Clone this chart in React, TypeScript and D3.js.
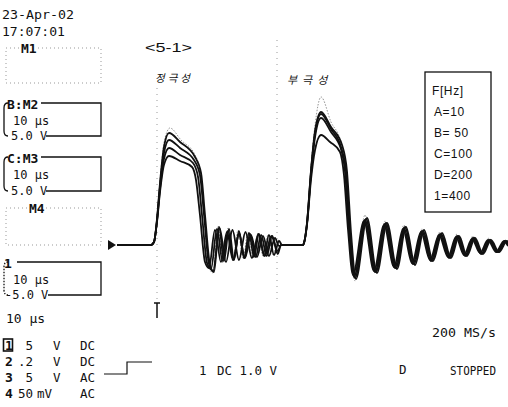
import React from "react";
import * as d3 from "d3";

// time in μs (trigger = 0), level in V
const traceA: [number, number][] = [
  [-3.33, 0], [-0.5, 0], [-0.25, 0.3], [0, 2.3], [0.25, 5.3], [0.58, 8.0], [1.0, 8.9], [1.92, 8.4], [2.92, 7.8], [3.25, 6.5], [3.58, 3.0], [4.0, -1.7], [4.33, -2.3],
  [4.83, 1.5], [5.33, -1.7], [5.83, 1.3], [6.33, -1.5], [6.83, 1.1], [7.33, -1.3], [7.83, 1.0], [8.33, -1.2], [8.83, 0.9], [9.33, -1.1], [9.83, 0.7], [10.17, -0.1], [10.42, 0],
  [12.17, 0],
  [12.25, 0.2], [12.5, 2.0], [12.83, 6.5], [13.17, 9.5], [13.67, 11.0], [14.42, 10.3], [15.25, 9.3], [15.58, 7.0], [15.92, 1.5], [16.33, -3.0],
  [17.25, 2.4], [18.08, -2.6], [18.92, 2.0], [19.75, -2.2], [20.5, 1.6], [21.25, -1.8], [22.0, 1.3], [22.75, -1.5], [23.5, 1.0], [24.25, -1.2], [24.92, 0.8], [25.58, -1.0], [26.25, 0.6], [26.92, -0.8], [27.58, 0.5], [28.25, -0.7], [28.92, 0.4], [29.25, -0.1],
];
const traceB: [number, number][] = [
  [-3.33, 0], [-0.5, 0], [-0.25, 0.3], [0, 2.4], [0.25, 5.6], [0.58, 8.6], [1.0, 9.7], [1.92, 9.0], [3.0, 8.2], [3.42, 6.8], [3.75, 3.0], [4.17, -1.8], [4.5, -2.4],
  [5.0, 1.6], [5.46, -1.6], [5.92, 1.4], [6.38, -1.5], [6.84, 1.2], [7.3, -1.3], [7.76, 1.1], [8.22, -1.2], [8.68, 1.0], [9.14, -1.1], [9.6, 0.9], [10.06, -0.9], [10.33, 0],
  [12.17, 0],
  [12.25, 0.2], [12.5, 2.1], [12.83, 7.0], [13.17, 10.8], [13.67, 12.7], [14.5, 11.3], [15.33, 9.6], [15.67, 7.3], [16.0, 1.5], [16.42, -3.2],
  [17.33, 2.5], [18.17, -2.7], [19.0, 2.1], [19.83, -2.3], [20.58, 1.7], [21.33, -1.9], [22.08, 1.4], [22.83, -1.6], [23.58, 1.1], [24.33, -1.3], [25.0, 0.9], [25.67, -1.1], [26.33, 0.7], [27.0, -0.9], [27.67, 0.5], [28.33, -0.7], [29.0, 0.4], [29.25, 0],
];
const traceC: [number, number][] = [
  [-3.33, 0], [-0.5, 0], [-0.25, 0.3], [0, 2.5], [0.25, 5.9], [0.58, 9.2], [1.0, 10.5], [1.92, 9.7], [3.08, 8.5], [3.58, 7.0], [3.92, 3.0], [4.33, -1.9], [4.67, -2.6],
  [5.21, 1.7], [5.75, -1.7], [6.29, 1.5], [6.83, -1.5], [7.37, 1.3], [7.91, -1.3], [8.45, 1.1], [8.99, -1.1], [9.53, 0.9], [10.07, -0.6], [10.33, 0],
  [12.17, 0],
  [12.25, 0.2], [12.5, 2.2], [12.83, 7.3], [13.17, 11.2], [13.67, 13.1], [14.5, 11.6], [15.33, 9.8], [15.75, 7.4], [16.08, 1.4], [16.5, -3.3],
  [17.42, 2.6], [18.25, -2.7], [19.08, 2.2], [19.92, -2.3], [20.67, 1.8], [21.42, -1.9], [22.17, 1.4], [22.92, -1.6], [23.67, 1.1], [24.42, -1.3], [25.08, 0.9], [25.75, -1.1], [26.42, 0.7], [27.08, -0.9], [27.75, 0.5], [28.42, -0.7], [29.08, 0.4], [29.25, 0.1],
];
const traceD: [number, number][] = [
  [-3.33, 0], [-0.5, 0], [-0.25, 0.3], [0, 2.6], [0.25, 6.2], [0.58, 9.8], [1.0, 11.2], [1.92, 10.3], [3.17, 8.8], [3.67, 7.2], [4.0, 3.0], [4.42, -2.0], [4.75, -2.7],
  [5.17, 1.8], [5.58, -1.6], [6.0, 1.6], [6.42, -1.5], [6.83, 1.4], [7.25, -1.3], [7.67, 1.2], [8.08, -1.2], [8.5, 1.1], [8.92, -1.1], [9.33, 1.0], [9.75, -1.0], [10.17, 0.4], [10.42, 0],
  [12.17, 0],
  [12.25, 0.2], [12.5, 2.2], [12.83, 7.4], [13.17, 11.4], [13.67, 13.3], [14.5, 11.8], [15.42, 10.0], [15.83, 7.4], [16.17, 1.2], [16.58, -3.4],
  [17.5, 2.7], [18.33, -2.8], [19.17, 2.2], [20.0, -2.4], [20.75, 1.8], [21.5, -2.0], [22.25, 1.5], [23.0, -1.6], [23.75, 1.2], [24.5, -1.3], [25.17, 0.9], [25.83, -1.1], [26.5, 0.7], [27.17, -0.9], [27.83, 0.5], [28.5, -0.7], [29.17, 0.4], [29.25, 0.3],
];
// faint outermost trace (400 Hz)
const traceE: [number, number][] = [
  [-3.33, 0], [-0.5, 0], [-0.25, 0.3], [0, 2.6], [0.25, 6.4], [0.58, 10.2], [1.08, 11.7], [2.0, 10.5], [3.17, 9.0], [3.58, 7.5], [3.92, 3.0], [4.33, -2.2], [4.67, -2.8],
  [5.08, 1.9], [5.5, -1.8], [5.92, 1.7], [6.33, -1.6], [6.75, 1.5], [7.17, -1.4], [7.58, 1.3], [8.0, -1.3], [8.42, 1.2], [8.83, -1.1], [9.25, 1.0], [9.67, -1.0], [10.08, 0.5], [10.42, 0],
  [12.17, 0],
  [12.25, 0.2], [12.5, 2.3], [12.83, 7.8], [13.17, 12.0], [13.67, 14.8], [14.5, 12.3], [15.33, 10.3], [15.75, 7.8], [16.08, 1.5], [16.5, -3.6],
  [17.33, 3.0], [18.17, -2.8], [19.0, 2.4], [19.83, -2.4], [20.58, 2.0], [21.33, -2.0], [22.08, 1.6], [22.83, -1.6], [23.58, 1.3], [24.33, -1.3], [25.0, 1.1], [25.67, -1.1], [26.33, 0.9], [27.0, -0.9], [27.67, 0.7], [28.33, -0.7], [29.0, 0.5], [29.25, 0.2],
];

const mainTraces = [traceA, traceB, traceC, traceD];
const gridTimes = [0, 10];
const legendLabels = ["F[Hz]", "A=10", "B= 50", "C=100", "D=200", "1=400"];
const chNumbers = ["1", "2", "3", "4"];
const chScales = ["5", ".2", "5", "50"];
const chUnits = ["V", "V", "V", "mV"];
const chCoupling = ["DC", "DC", "AC", "AC"];
const polarityLabels = ["정극성", "부극성"];

const mono = "'DejaVu Sans Mono', monospace";
const sans = "'Liberation Sans', Arial, sans-serif";
const ink = "#111";

function MemBox({ label, top, bottom, solid, l1, l2 }: any) {
  const right = 101;
  if (!solid) {
    return (
      <g>
        <path
          d={`M6 ${top} H${right} V${bottom} H6 Z`}
          fill="none"
          stroke="#999"
          strokeWidth={1}
          strokeDasharray="1 3"
        />
        <rect x={label === "M1" ? 20 : 28} y={top - 7} width={18} height={13} fill="#fff" />
        <text x={label === "M1" ? 21 : 29} y={top + 5} fontFamily={mono} fontWeight="bold" fontSize={13} fill={ink}>
          {label}
        </text>
      </g>
    );
  }
  const lw = label.length * 8 + 9;
  return (
    <g>
      <path
        d={`M${lw} ${top} H${right} V${bottom} H${label === "1" ? 48 : 46}`}
        fill="none"
        stroke={ink}
        strokeWidth={1.3}
      />
      <path
        d={`M8 ${top} Q4 ${top} 4 ${top + 5} V${bottom - 5} Q4 ${bottom} 8 ${bottom}`}
        fill="none"
        stroke={ink}
        strokeWidth={1.3}
        strokeDasharray={label === "1" ? "1.5 1.5" : undefined}
      />
      <text x={label === "1" ? 4 : 7} y={top + 6} fontFamily={mono} fontWeight="bold" fontSize={13} fill={ink}>
        {label}
      </text>
      <text x={13} y={top + 22} fontFamily={mono} fontSize={12} fill={ink}>
        {l1}
      </text>
      <text x={label === "1" ? 5 : 11} y={bottom + 4} fontFamily={mono} fontSize={12} fill={ink}>
        {l2}
      </text>
    </g>
  );
}

export default function App() {
  const x = d3.scaleLinear().domain([-4, 29.25]).range([109, 508]);
  const y = d3.scaleLinear().domain([-5.5, 16.5]).range([300, 80]);
  const line = d3
    .line<[number, number]>()
    .x(d => x(d[0]))
    .y(d => y(d[1]))
    .curve(d3.curveMonotoneX);

  const x0 = x(0);
  const y0 = y(0);

  return (
    <svg
      width={508}
      height={407}
      style={{ position: "absolute", left: 0, top: 0, background: "#fff" }}
    >
      <rect width={508} height={407} fill="#fff" />

      {/* graticule dots */}
      {gridTimes.map((t, i) => (
        <line
          key={t}
          x1={x(t)}
          x2={x(t)}
          y1={i === 0 ? 88 : 40}
          y2={300}
          stroke="#999"
          strokeWidth={1}
          strokeDasharray="1 5"
        />
      ))}

      {/* header */}
      <text x={2} y={19} fontFamily={mono} fontSize={13} fill={ink} textLength={72} lengthAdjust="spacingAndGlyphs">
        23-Apr-02
      </text>
      <text x={2} y={36} fontFamily={mono} fontSize={13} fill={ink} textLength={63} lengthAdjust="spacingAndGlyphs">
        17:07:01
      </text>

      <MemBox label="M1" top={48} bottom={83} solid={false} />
      <MemBox label="B:M2" top={103} bottom={136} solid l1="10 μs" l2="5.0 V" />
      <MemBox label="C:M3" top={157} bottom={191} solid l1="10 μs" l2="5.0 V" />
      <MemBox label="M4" top={208} bottom={245} solid={false} />
      <MemBox label="1" top={262} bottom={295} solid l1="10 μs" l2="-5.0 V" />

      <text x={6} y={323} fontFamily={mono} fontSize={13} fill={ink}>
        10 μs
      </text>

      {/* ground marker */}
      <path d={`M108 ${y0 - 5} L116 ${y0} L108 ${y0 + 5} Z`} fill={ink} />

      {/* trigger marker */}
      <path d={`M${x0} 303 V318 M${x0 - 3} 303 H${x0 + 3}`} stroke={ink} strokeWidth={1.5} fill="none" />

      {/* traces */}
      <path d={line(traceE) || ""} fill="none" stroke="#888" strokeWidth={0.9} strokeDasharray="1.5 1.5" />
      {mainTraces.map((tr, i) => (
        <path key={i} d={line(tr) || ""} fill="none" stroke={ink} strokeWidth={1.8} strokeLinejoin="round" />
      ))}

      {/* titles */}
      <text x={145} y={52} fontFamily={sans} fontSize={13} fill={ink} textLength={47} lengthAdjust="spacingAndGlyphs">
        {"<5-1>"}
      </text>
      <text x={155} y={82} fontFamily="'Noto Sans CJK KR'" fontSize={10.5} fill={ink} fontStyle="italic" letterSpacing={3}>
        {polarityLabels[0]}
      </text>
      <text x={287} y={84} fontFamily="'Noto Sans CJK KR'" fontSize={11} fill={ink} fontStyle="italic" letterSpacing={5}>
        {polarityLabels[1]}
      </text>

      {/* legend */}
      <rect x={425} y={72} width={66} height={140} fill="#fff" stroke={ink} strokeWidth={1.3} />
      {legendLabels.map((s, i) => (
        <text
          key={s}
          x={i === 0 ? 432 : 434}
          y={95 + i * 21}
          fontFamily={sans}
          fontSize={12}
          fill={ink}
          letterSpacing={0.6}
        >
          {s}
        </text>
      ))}

      {/* channel settings */}
      <rect x={3.5} y={339} width={9} height={12} fill="none" stroke={ink} strokeWidth={1.6} />
      {chNumbers.map((c, i) => {
        const by = 350 + i * 16;
        return (
          <g key={c} fontFamily={mono} fill={ink}>
            <text x={5} y={by} fontSize={13} fontWeight="bold">
              {c}
            </text>
            <text x={33} y={by} fontSize={12.5} textAnchor="end">
              {chScales[i]}
            </text>
            <text x={chUnits[i] === "mV" ? 37 : 53} y={by} fontSize={12.5}>
              {chUnits[i]}
            </text>
            <text x={80} y={by} fontSize={12.5}>
              {chCoupling[i]}
            </text>
          </g>
        );
      })}

      {/* trigger status */}
      <path d="M104 374 H127 V362 H152" fill="none" stroke={ink} strokeWidth={1.2} />
      <text x={199} y={375} fontFamily={mono} fontSize={12.5} fill={ink}>
        1
      </text>
      <text x={217} y={375} fontFamily={mono} fontSize={12.5} fill={ink} textLength={60} lengthAdjust="spacingAndGlyphs">
        DC 1.0 V
      </text>
      <text x={399} y={374} fontFamily={mono} fontSize={12.5} fill={ink}>
        D
      </text>
      <text x={450} y={375} fontFamily={mono} fontSize={12.5} fill={ink} textLength={46} lengthAdjust="spacingAndGlyphs">
        STOPPED
      </text>
      <text x={432} y={337} fontFamily={mono} fontSize={13} fill={ink} textLength={64} lengthAdjust="spacingAndGlyphs">
        200 MS/s
      </text>
    </svg>
  );
}
